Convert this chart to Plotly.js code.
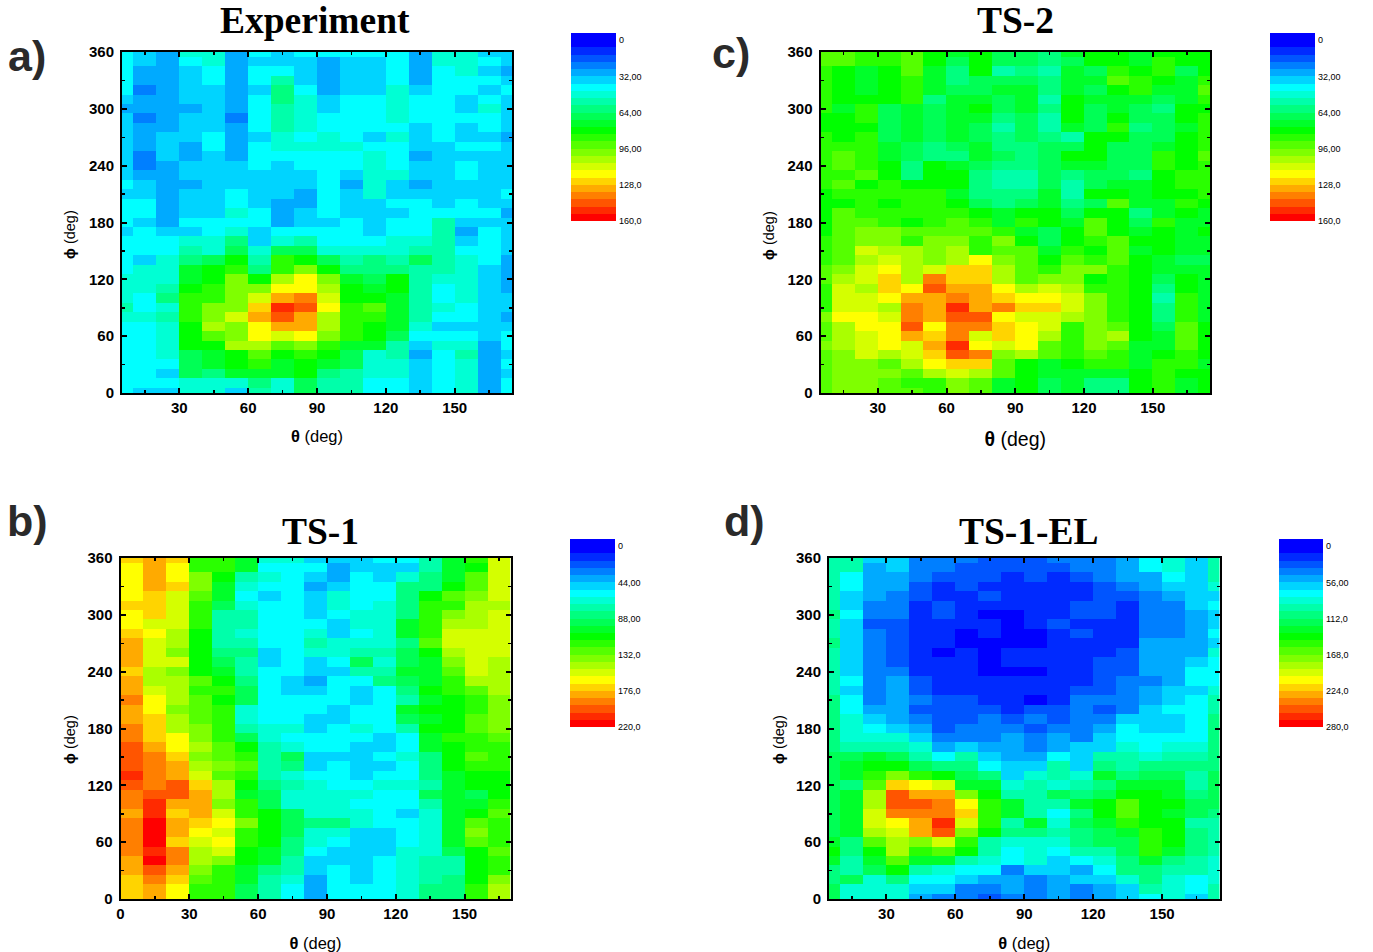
<!DOCTYPE html>
<html><head><meta charset="utf-8">
<script src="https://cdn.plot.ly/plotly-3.0.1.min.js"></script>
<style>html,body{margin:0;padding:0;background:#fff}#chart{width:1373px;height:952px}</style>
</head><body><div id="chart"></div>
<script>
// Each entry is the colour band (0 = lowest band, 24 = highest).
// Rows run from phi = 360 (first) down to phi = 0 (last).
const phi = [360,350,340,330,320,310,300,290,280,270,260,250,240,230,220,210,200,190,180,170,160,150,140,130,120,110,100,90,80,70,60,50,40,30,20,10,0];
const thetaFull = [5,15,25,35,45,55,65,75,85,95,105,115,125,135,145,155,165,175];
const thetaTS1 = [5,15,25,35,45,55,65,75,85,95,105,115,125,135,145,155,165];

const bandsExperiment = [
[6,5,4,7,7,4,6,5,6,6,6,6,6,4,7,7,5,5],
[6,5,4,6,7,4,5,5,5,4,5,5,6,4,7,7,6,5],
[6,4,4,5,6,4,6,6,5,4,5,5,6,4,6,7,5,4],
[6,4,4,5,6,4,6,8,5,4,5,5,6,4,6,6,6,5],
[6,3,4,5,5,4,5,9,6,4,5,5,7,5,6,6,5,6],
[5,4,4,5,5,4,6,9,7,5,6,6,7,6,6,5,6,5],
[4,4,4,4,5,4,6,8,7,5,6,6,7,6,6,5,7,5],
[5,3,4,5,5,3,6,8,7,6,6,6,7,6,6,6,6,5],
[5,4,4,5,5,4,6,8,7,6,6,6,6,5,6,5,6,5],
[5,4,5,5,6,4,5,7,6,7,6,5,7,5,6,5,5,4],
[5,4,5,4,6,4,6,7,7,7,7,6,6,5,5,6,6,5],
[5,3,5,4,5,4,6,6,6,6,6,7,6,4,5,5,5,5],
[5,3,4,5,5,5,6,5,6,6,6,7,6,5,5,6,5,5],
[5,4,4,5,5,5,5,5,5,6,5,7,7,5,5,6,5,5],
[6,5,4,4,5,5,5,5,5,6,4,7,5,4,5,5,5,5],
[5,5,4,5,5,6,5,5,4,6,5,7,5,5,5,5,5,6],
[6,6,4,5,5,6,5,4,4,6,5,5,6,6,5,6,5,5],
[6,6,4,5,5,7,6,4,5,6,5,5,5,6,6,6,6,4],
[6,5,4,6,6,6,6,4,5,5,6,5,6,6,8,5,5,5],
[5,6,5,5,6,7,5,6,6,6,6,5,6,6,8,4,6,5],
[6,6,6,7,7,9,5,7,8,6,6,6,7,7,8,5,6,5],
[6,6,6,8,7,10,7,10,10,7,7,7,7,8,8,6,6,5],
[6,5,7,9,10,12,8,13,12,10,8,9,8,10,8,7,6,4],
[6,7,7,11,12,13,9,13,15,12,9,9,9,8,8,7,5,4],
[7,7,7,11,12,15,12,16,18,15,11,10,12,8,7,7,5,4],
[7,7,8,12,13,15,15,18,18,16,12,11,12,8,6,7,5,4],
[7,6,9,13,13,15,17,20,21,17,12,12,11,8,6,7,5,5],
[8,6,7,13,15,15,19,23,22,18,13,14,11,8,7,6,5,5],
[7,7,8,13,15,17,20,22,20,16,13,13,11,8,6,6,5,4],
[6,6,7,12,16,15,18,20,20,16,13,12,11,7,5,5,5,5],
[6,6,7,12,14,15,18,17,18,15,13,12,10,6,6,6,5,6],
[6,6,7,12,12,16,16,14,15,13,11,11,8,5,7,7,4,6],
[6,6,7,10,11,12,14,12,13,12,10,7,8,4,6,8,4,5],
[6,6,6,10,11,12,13,11,12,11,10,7,7,5,6,7,4,6],
[6,6,5,10,9,11,11,11,12,9,8,7,7,5,6,7,4,5],
[6,6,6,7,7,7,9,7,10,8,8,6,6,5,6,7,4,6],
[6,5,5,7,7,5,8,7,10,8,8,6,6,5,6,7,4,6]];

const bandsTS2 = [
[14,14,13,13,14,12,11,12,10,10,9,11,12,12,11,12,12,12],
[14,14,13,13,14,12,10,12,10,10,9,10,12,12,11,13,12,12],
[13,12,11,12,14,11,9,12,8,9,8,11,10,13,12,13,10,12],
[13,12,11,12,13,11,9,10,10,10,9,11,11,14,13,12,11,13],
[13,12,11,12,13,11,10,10,11,11,9,11,10,12,13,11,11,14],
[13,12,12,12,13,9,11,11,10,11,8,12,11,11,11,10,11,13],
[13,11,13,10,11,10,11,12,10,11,9,12,10,11,10,9,12,12],
[12,12,13,10,11,10,11,11,9,10,8,12,10,12,10,10,12,13],
[12,12,12,10,11,10,11,10,8,10,8,11,10,13,9,10,11,13],
[13,12,13,10,11,10,11,10,9,10,9,8,12,12,10,10,12,13],
[13,13,13,11,10,9,10,11,9,9,10,10,12,10,10,11,12,13],
[13,14,13,11,10,9,9,11,10,9,10,12,12,10,10,13,12,14],
[13,14,13,12,9,12,11,10,9,9,10,11,11,10,10,13,12,13],
[13,13,14,12,9,12,12,9,8,8,10,9,10,10,9,12,13,13],
[13,14,12,13,12,12,12,9,8,8,10,8,10,11,11,12,13,13],
[12,13,13,13,13,13,11,9,9,9,11,8,12,12,11,12,12,13],
[12,12,13,12,13,13,12,10,9,10,11,9,10,14,11,11,13,12],
[12,14,13,13,13,13,13,12,11,12,12,10,12,12,9,11,12,11],
[12,14,14,13,12,13,14,13,11,13,12,11,14,12,10,13,11,11],
[12,14,15,15,14,14,14,14,13,11,10,12,14,12,11,12,11,12],
[13,14,15,15,13,15,15,13,15,12,10,12,13,14,12,12,11,11],
[13,14,17,16,16,15,16,13,14,14,11,13,12,14,11,12,11,11],
[13,14,16,17,16,15,16,18,15,14,12,14,13,14,12,11,10,10],
[14,15,17,18,16,17,19,19,16,14,13,15,15,13,12,11,11,11],
[14,16,17,19,16,21,19,19,16,14,15,15,12,13,12,10,12,11],
[13,17,16,19,18,22,20,20,18,16,17,16,13,13,12,9,12,11],
[13,17,17,18,20,20,21,20,19,18,18,17,15,13,12,8,13,11],
[13,17,17,16,21,20,23,20,21,19,19,17,15,13,12,9,13,11],
[15,18,18,17,21,20,22,22,18,17,17,16,15,13,12,9,13,11],
[14,16,18,18,22,18,21,21,19,18,17,13,15,14,12,10,14,12],
[14,16,17,18,20,19,21,17,19,18,16,13,15,16,12,11,14,12],
[15,16,17,18,17,20,23,18,17,18,14,13,15,14,11,11,14,12],
[14,15,17,16,17,19,22,21,15,16,14,13,14,13,11,12,13,12],
[14,15,15,14,16,18,19,19,14,12,11,12,13,13,11,13,13,11],
[14,15,15,15,14,16,17,16,14,12,11,11,11,11,12,13,12,12],
[14,15,15,14,13,13,15,14,11,12,10,11,9,9,12,13,11,12],
[14,15,15,14,14,13,15,14,11,12,10,11,9,9,12,13,11,12]];

const bandsTS1 = [
[19,20,19,13,13,11,7,7,5,5,5,6,6,8,11,13,17],
[18,20,18,13,13,11,6,6,6,4,5,5,5,8,11,12,17],
[18,20,18,15,12,8,7,6,5,4,6,5,7,9,11,14,17],
[18,20,19,15,11,7,6,6,4,5,6,6,9,9,12,14,17],
[18,19,17,14,11,6,5,6,5,7,6,6,9,12,14,15,17],
[19,19,17,13,10,7,6,6,5,7,6,7,9,13,13,16,16],
[18,19,17,13,8,8,6,6,5,6,7,7,9,13,15,16,17],
[18,17,17,13,8,8,6,6,6,5,7,7,11,13,16,16,17],
[19,18,16,12,8,7,6,6,7,5,6,7,11,13,17,17,17],
[20,17,16,12,8,8,6,6,8,7,7,7,9,14,17,17,17],
[20,17,15,12,9,9,5,6,7,7,8,8,10,12,16,17,17],
[20,17,17,12,10,8,5,6,5,6,10,7,10,11,15,17,16],
[19,16,15,12,11,8,6,6,5,5,8,8,11,11,14,17,16],
[20,16,16,14,12,9,6,5,4,6,6,9,10,11,13,16,16],
[20,17,16,13,13,10,6,5,5,6,5,6,9,12,13,14,16],
[21,18,16,14,12,10,6,6,6,6,5,6,8,11,12,13,15],
[20,18,15,14,13,7,6,6,6,5,6,6,11,12,12,13,15],
[20,19,16,14,13,7,6,6,5,5,6,6,10,11,12,14,15],
[21,19,16,15,13,8,7,7,5,6,7,6,8,12,12,14,15],
[21,19,18,15,13,10,7,6,6,6,6,5,6,11,13,13,14],
[22,20,18,16,14,12,8,7,6,6,5,5,6,11,12,13,13],
[22,21,19,15,14,13,8,10,5,5,5,6,7,9,12,14,13],
[22,21,20,16,15,14,8,9,5,6,5,5,6,9,12,13,13],
[23,21,20,17,14,13,8,7,6,6,5,6,6,9,11,12,12],
[22,21,22,19,16,12,9,8,7,6,6,7,7,8,11,12,12],
[21,22,22,20,16,11,10,7,7,7,7,6,6,10,11,10,12],
[21,23,20,20,15,13,10,7,7,7,6,6,6,8,11,11,13],
[20,23,19,20,17,13,12,10,7,7,7,6,5,7,11,12,14],
[21,24,20,19,18,15,12,10,9,9,7,6,6,7,11,14,13],
[21,24,20,18,17,13,12,10,7,7,5,5,6,7,11,15,13],
[21,24,19,17,18,13,12,9,7,6,5,5,6,7,11,14,13],
[21,23,21,16,17,12,11,9,6,5,5,5,7,7,10,12,14],
[20,24,21,16,15,12,11,8,5,5,5,6,7,8,8,12,13],
[20,22,20,15,13,11,9,8,5,6,5,6,7,8,8,12,13],
[19,21,19,14,13,11,8,7,4,6,5,6,7,8,9,12,15],
[19,20,18,13,13,10,8,6,4,6,6,6,7,9,9,13,16],
[19,20,18,13,13,10,8,6,4,6,6,6,7,9,9,13,16]];

const bandsTS1EL = [
[8,8,5,5,3,3,3,2,2,2,3,3,3,4,6,7,5,8],
[8,8,4,5,3,3,2,2,2,2,2,3,3,4,6,7,5,8],
[8,6,4,4,3,2,2,2,1,2,1,2,3,4,4,6,5,8],
[8,6,4,4,2,1,2,1,1,1,1,1,2,3,4,5,5,7],
[8,5,4,3,2,1,1,2,1,1,1,1,2,2,3,4,5,5],
[8,5,3,3,1,2,1,1,1,1,1,2,2,1,3,3,5,6],
[9,6,3,3,1,2,1,0,0,1,1,2,2,1,3,3,4,5],
[8,5,2,2,1,1,1,1,0,1,2,1,1,1,3,3,4,5],
[8,5,3,2,1,1,0,1,0,0,1,2,1,1,3,3,4,6],
[9,5,3,2,1,1,0,0,0,0,1,1,1,1,4,4,4,5],
[8,5,3,2,1,0,1,0,1,1,1,1,1,2,4,4,4,7],
[8,5,3,2,1,1,1,0,1,1,1,1,2,2,4,4,5,6],
[8,5,3,3,1,1,1,0,0,0,1,1,2,2,4,4,6,6],
[8,6,3,4,2,1,1,1,1,1,1,1,2,3,3,4,6,6],
[8,5,3,4,2,1,1,1,1,1,1,2,2,3,4,5,5,7],
[9,6,3,4,3,2,2,1,1,0,1,3,3,3,4,5,6,8],
[9,6,4,4,2,2,2,2,1,2,2,3,2,3,5,6,6,8],
[9,7,5,4,3,2,2,3,2,3,2,3,3,5,5,5,6,9],
[9,7,6,5,4,2,3,3,3,2,3,3,4,6,5,5,6,9],
[9,7,7,7,5,3,3,3,4,3,4,3,5,6,6,6,6,9],
[9,8,8,8,7,4,5,4,4,3,4,5,5,7,6,7,7,9],
[10,10,11,10,8,6,8,5,4,4,6,5,8,8,7,8,8,9],
[10,11,12,12,10,9,9,6,5,5,8,5,9,8,9,9,9,9],
[10,11,13,15,13,12,10,9,5,7,8,7,11,9,10,10,8,10],
[10,9,14,19,18,17,11,11,7,8,7,8,9,11,11,11,8,10],
[10,11,16,22,20,20,15,12,8,8,10,9,10,12,12,11,9,10],
[10,11,16,22,22,21,18,13,11,8,8,11,12,14,12,12,10,10],
[10,11,17,21,21,21,19,13,11,8,6,9,12,14,12,11,10,9],
[10,11,17,18,20,23,17,13,8,11,7,10,11,13,12,12,8,8],
[10,11,16,17,20,22,15,12,9,9,8,9,10,11,13,12,9,8],
[11,9,14,16,15,17,13,8,7,7,7,9,10,10,13,12,9,8],
[12,9,12,16,13,14,12,8,6,7,6,8,8,10,13,11,9,8],
[11,8,11,14,11,11,8,7,6,7,5,6,7,9,11,9,8,7],
[9,8,10,12,8,7,6,6,3,5,5,4,6,9,9,8,8,7],
[9,10,7,9,6,6,5,4,4,3,4,5,5,7,9,7,6,7],
[10,7,7,7,5,5,3,3,4,3,4,3,4,5,8,7,6,8],
[10,7,7,7,4,3,3,2,3,3,4,3,4,5,6,7,5,8]];

const palette = ["rgb(0,0,255)","rgb(0,42,255)","rgb(0,85,255)","rgb(0,127,255)","rgb(0,170,255)","rgb(0,212,255)","rgb(0,255,255)","rgb(0,255,212)","rgb(0,255,170)","rgb(0,255,127)","rgb(0,255,85)","rgb(0,255,42)","rgb(0,255,0)","rgb(42,255,0)","rgb(85,255,0)","rgb(127,255,0)","rgb(170,255,0)","rgb(212,255,0)","rgb(255,255,0)","rgb(255,212,0)","rgb(255,170,0)","rgb(255,127,0)","rgb(255,85,0)","rgb(255,42,0)","rgb(255,0,0)"];

const scaleExp = ["0","32,00","64,00","96,00","128,0","160,0"];
const scaleTS1 = ["0","44,00","88,00","132,0","176,0","220,0"];
const scaleEL  = ["0","56,00","112,0","168,0","224,0","280,0"];
const ticksExp = [0,32,64,96,128,160];
const ticksTS1 = [0,44,88,132,176,220];
const ticksEL  = [0,56,112,168,224,280];

const W = 1373, H = 952;
const FONT = "Liberation Sans, Arial, sans-serif";
const nb = palette.length;
const colorscale = [];
palette.forEach((c,k)=>{colorscale.push([k/nb,c]);colorscale.push([(k+1)/nb,c]);});

const panels = [
 {bands:bandsExperiment, x:thetaFull, rx:[5,175], tv:ticksExp, tt:scaleExp, box:[122,512,52,393], bar:[571,616,33,221], xtitle:{stand:15,size:16.5}, yt:[70,235]},
 {bands:bandsTS1, x:thetaTS1, rx:[0,170], tv:ticksTS1, tt:scaleTS1, box:[120.5,510.5,558,899], bar:[570,615,539,727], xtitle:{stand:18,size:16.5}, yt:[70,740]},
 {bands:bandsTS2, x:thetaFull, rx:[5,175], tv:ticksExp, tt:scaleExp, box:[820.5,1210,52,393], bar:[1270,1315,33,221], xtitle:{stand:17,size:19.5}, yt:[769,235]},
 {bands:bandsTS1EL, x:thetaFull, rx:[5,175], tv:ticksEL, tt:scaleEL, box:[829,1219.5,558,899], bar:[1279,1323,539,727], xtitle:{stand:20,size:16.5}, yt:[779,740]}
];

const data = [], layout = {
  width:W, height:H, margin:{l:0,r:0,t:0,b:0}, paper_bgcolor:"#fff", plot_bgcolor:"#fff",
  showlegend:false, font:{family:FONT,color:"#000"}, annotations:[]
};
const dx = b=>[b[0]/W, b[1]/W], dy = b=>[1-b[3]/H, 1-b[2]/H];

panels.forEach((p,i)=>{
  const a = 2*i+1, b = 2*i+2;
  const bw = p.tv[p.tv.length-1]/nb;
  data.push({type:"heatmap", x:p.x, y:phi, z:p.bands.map(r=>r.map(v=>(v+0.5)*bw)),
    colorscale, zmin:0, zmax:nb*bw, showscale:false, xaxis:"x"+a, yaxis:"y"+a});
  const edges = [-bw]; for(let k=1;k<=nb;k++) edges.push(k*bw);
  data.push({type:"heatmap", x:[0,1], y:edges, z:palette.map((c,k)=>[(k+0.5)*bw]),
    colorscale, zmin:0, zmax:nb*bw, showscale:false, xaxis:"x"+b, yaxis:"y"+b, hoverinfo:"skip"});
  const tick = {family:FONT,size:15,color:"#000",weight:700};
  layout["xaxis"+a] = {domain:dx(p.box), range:p.rx, anchor:"y"+a, tick0:0, dtick:30, ticks:"inside", ticklen:5, tickwidth:2,
    tickcolor:"#000", showline:true, linewidth:2, linecolor:"#000", mirror:"allticks", showgrid:false, zeroline:false,
    tickfont:tick, minor:{dtick:15, tick0:0, ticks:"inside", ticklen:3, tickwidth:1.5, tickcolor:"#000", showgrid:false},
    title:{text:"<b>θ</b> (deg)", font:{family:FONT,size:p.xtitle.size,color:"#000"}, standoff:p.xtitle.stand}};
  layout["yaxis"+a] = {domain:dy(p.box), range:[0,360], anchor:"x"+a, tick0:0, dtick:60, ticks:"inside", ticklen:5, tickwidth:2,
    tickcolor:"#000", showline:true, linewidth:2, linecolor:"#000", mirror:"allticks", showgrid:false, zeroline:false, ticklabelstandoff:3,
    tickfont:tick, minor:{dtick:30, tick0:0, ticks:"inside", ticklen:3, tickwidth:1.5, tickcolor:"#000", showgrid:false}};
  layout["xaxis"+b] = {domain:dx(p.bar), range:[0,1], anchor:"y"+b, visible:false, fixedrange:true};
  layout["yaxis"+b] = {domain:dy(p.bar), range:[nb*bw,-bw], anchor:"x"+b, side:"right", showline:false, showgrid:false, zeroline:false,
    tickmode:"array", tickvals:p.tv, ticktext:p.tt, ticks:"", ticklen:0, ticklabelstandoff:2,
    tickfont:{family:FONT,size:9,color:"#000"}, fixedrange:true};
  layout.annotations.push({text:"<b>ϕ</b> (deg)", x:p.yt[0]/W, y:1-p.yt[1]/H, xref:"paper", yref:"paper", textangle:-90,
    xanchor:"center", yanchor:"middle", showarrow:false, font:{family:FONT,size:14.5,color:"#000"}});
});

const titles = [["Experiment",315,20],["TS-2",1015,20],["TS-1",320,531],["TS-1-EL",1029,531]];
titles.forEach(t=>layout.annotations.push({text:"<b>"+t[0]+"</b>", x:t[1]/W, y:1-t[2]/H, xref:"paper", yref:"paper",
  xanchor:"center", yanchor:"middle", showarrow:false, font:{family:"Liberation Serif, Times New Roman, serif",size:37.5,color:"#000"}}));
const tags = [["a)",27,56],["c)",731,53],["b)",27,521],["d)",744,521]];
tags.forEach(t=>layout.annotations.push({text:"<b>"+t[0]+"</b>", x:t[1]/W, y:1-t[2]/H, xref:"paper", yref:"paper",
  xanchor:"center", yanchor:"middle", showarrow:false, font:{family:FONT,size:43,color:"#2a2a2a"}}));

Plotly.newPlot("chart", data, layout, {displayModeBar:false, staticPlot:true});
</script></body></html>
